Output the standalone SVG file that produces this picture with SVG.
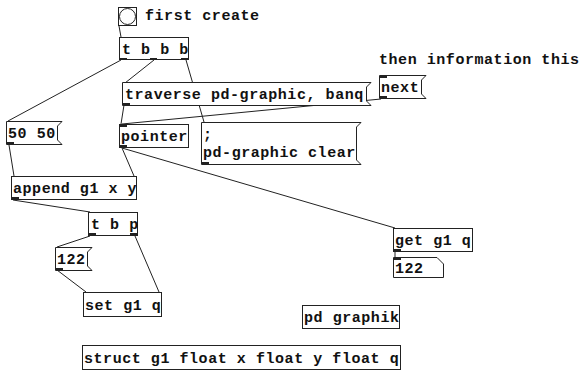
<svg xmlns="http://www.w3.org/2000/svg" width="581" height="373" viewBox="0 0 581 373">
<style>
text{font-family:"Liberation Mono","Courier New",monospace;font-weight:bold;font-size:15px;letter-spacing:0.55px;fill:#111}
.box{fill:#fff;stroke:#222;stroke-width:1}
.io{fill:#222}
.wire{stroke:#222;stroke-width:1;fill:none}
</style>
<rect width="581" height="373" fill="#fff"/>
<g id="connectors">
<line class="wire" x1="119" y1="26" x2="121" y2="37"/>
<line class="wire" x1="121" y1="60" x2="8" y2="121"/>
<line class="wire" x1="154" y1="60" x2="125" y2="83"/>
<line class="wire" x1="186" y1="60" x2="204" y2="122"/>
<line class="wire" x1="124" y1="105" x2="121" y2="124"/>
<line class="wire" x1="381" y1="99" x2="122" y2="124"/>
<line class="wire" x1="122" y1="148" x2="134" y2="176"/>
<line class="wire" x1="122" y1="148" x2="395" y2="228"/>
<line class="wire" x1="9" y1="145" x2="14" y2="176"/>
<line class="wire" x1="13" y1="200" x2="90" y2="212"/>
<line class="wire" x1="90" y1="236" x2="57" y2="247"/>
<line class="wire" x1="135" y1="236" x2="159" y2="292"/>
<line class="wire" x1="57" y1="270" x2="86" y2="292"/>
<line class="wire" x1="395" y1="252" x2="395" y2="257"/>
</g>
<g id="bang">
<rect class="box" x="118.5" y="7.5" width="18" height="18"/>
<circle cx="127.5" cy="16.5" r="8" fill="none" stroke="#222"/>
</g>
<g id="comment-first">
<text x="145" y="20">first create</text>
</g>
<g id="comment-then">
<text x="379" y="64">then information this</text>
</g>
<g id="tbbb">
<rect class="box" x="119.5" y="37.5" width="69" height="22"/>
<rect class="io" x="120" y="58" width="7" height="2"/>
<rect class="io" x="150" y="58" width="7" height="2"/>
<rect class="io" x="181" y="58" width="7" height="2"/>
<text x="122" y="54">t b b b</text>
</g>
<g id="traverse">
<path class="box" d="M122.5,82.5 H371 L366.5,87 V101 L371,105.5 H122.5 Z"/>
<rect class="io" x="123" y="103" width="7" height="2"/>
<text x="125" y="99">traverse pd-graphic, banq</text>
</g>
<g id="next">
<path class="box" d="M379.5,75.5 H426 L421.5,80 V94 L426,98.5 H379.5 Z"/>
<rect class="io" x="380" y="76" width="7" height="2"/>
<rect class="io" x="380" y="96" width="7" height="2"/>
<text x="381" y="92">next</text>
</g>
<g id="pointer">
<rect class="box" x="119.5" y="124.5" width="69" height="23"/>
<rect class="io" x="120" y="125" width="7" height="2"/>
<rect class="io" x="120" y="145" width="7" height="2"/>
<text x="121" y="141">pointer</text>
</g>
<g id="msg-clear">
<path class="box" d="M201.5,122.5 H361 L356.5,127 V160 L361,164.5 H201.5 Z"/>
<rect class="io" x="202" y="162" width="7" height="2"/>
<text x="203" y="139">;</text>
<text x="203" y="157">pd-graphic clear</text>
</g>
<g id="msg5050">
<path class="box" d="M6.5,121.5 H62 L57.5,126 V140 L62,144.5 H6.5 Z"/>
<rect class="io" x="7" y="142" width="7" height="2"/>
<text x="8" y="138">50 50</text>
</g>
<g id="append">
<rect class="box" x="11.5" y="176.5" width="125" height="23"/>
<rect class="io" x="12" y="197" width="7" height="2"/>
<text x="13" y="193">append g1 x y</text>
</g>
<g id="tbp">
<rect class="box" x="88.5" y="212.5" width="49" height="23"/>
<rect class="io" x="89" y="233" width="7" height="2"/>
<rect class="io" x="130" y="233" width="7" height="2"/>
<text x="91" y="229">t b p</text>
</g>
<g id="msg122">
<path class="box" d="M55.5,247.5 H92 L87.5,252 V266 L92,270.5 H55.5 Z"/>
<rect class="io" x="56" y="268" width="7" height="2"/>
<text x="57" y="264">122</text>
</g>
<g id="setg1q">
<rect class="box" x="83.5" y="292.5" width="78" height="24"/>
<text x="85" y="310">set g1 q</text>
</g>
<g id="getg1q">
<rect class="box" x="393.5" y="228.5" width="79" height="23"/>
<rect class="io" x="394" y="249" width="7" height="2"/>
<text x="395" y="245">get g1 q</text>
</g>
<g id="num122">
<path class="box" d="M393.5,257.5 H437 L443.5,264 V277.5 H393.5 Z"/>
<rect class="io" x="394" y="258" width="7" height="2"/>
<text x="395" y="273">122</text>
</g>
<g id="pdgraphik">
<rect class="box" x="302.5" y="305.5" width="97" height="23"/>
<text x="304" y="322">pd graphik</text>
</g>
<g id="struct">
<rect class="box" x="82.5" y="345.5" width="318" height="24"/>
<text x="84" y="363">struct g1 float x float y float q</text>
</g>
</svg>
